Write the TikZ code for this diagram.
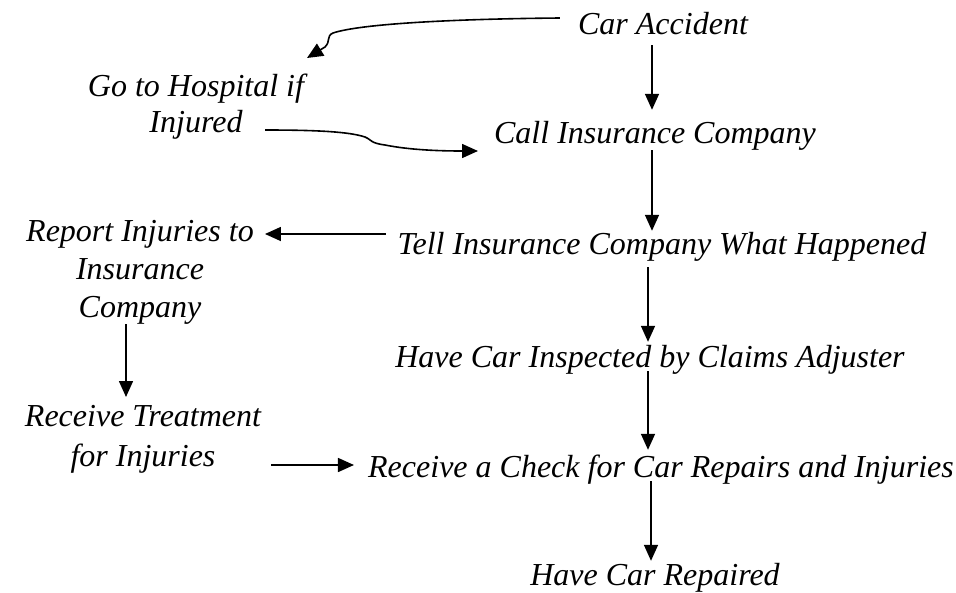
\documentclass[tikz,border=0pt]{standalone}
\usepackage{fontspec}
\newfontfamily\stepfont{Liberation Serif}
\usetikzlibrary{arrows.meta}
\begin{document}
\begin{tikzpicture}[x=1pt,y=1pt,
  step label/.style={font=\stepfont\fontsize{32}{38}\selectfont\itshape, inner sep=0pt, align=center},
  one line/.style={step label, anchor=base, text height=22pt, text depth=7pt},
  flow/.style={line width=1.6pt, -{Triangle[length=16pt,width=14pt]}}]
\useasboundingbox (0,0) rectangle (956,-592);

% main sequence of steps (placed on their baselines)
\node[one line] (acc)    at (663,-34)  {Car Accident};
\node[one line] (call)   at (655,-143) {Call Insurance Company};
\node[one line] (tell)   at (662,-254) {Tell Insurance Company What Happened};
\node[one line] (insp)   at (650,-367) {Have Car Inspected by Claims Adjuster};
\node[one line] (check)  at (661,-477) {Receive a Check for Car Repairs and Injuries};
\node[one line] (repair) at (655,-585) {Have Car Repaired};

% side steps (placed by their top edge)
\node[step label, anchor=north] (hosp)   at (196,-74)  {Go to Hospital if\\[-2pt]Injured};
\node[step label, anchor=north] (report) at (140,-220) {Report Injuries to\\Insurance\\Company};
\node[step label, anchor=north] (treat)  at (143,-405) {Receive Treatment\\[2pt]for Injuries};

% main sequence
\draw[flow, shorten <=4pt, shorten >=11pt] (acc.south -| 652,0) -- (call.north -| 652,0);
\draw[flow, shorten >=1pt] (call.south -| 652,0) -- (tell.north -| 652,0);
\draw[flow, shorten <=6pt, shorten >=3pt] (tell.south -| 648,0) -- (insp.north -| 648,0);
\draw[flow, shorten <=-3pt, shorten >=5pt] (insp.south -| 648,0) -- (check.north -| 648,0);
\draw[flow, shorten <=-3pt, shorten >=2pt] (check.south -| 651,0) -- (repair.north -| 651,0);

% side branches
\draw[flow, shorten >=8pt] (report.south -| 126,0) -- (treat.north -| 126,0);
\draw[flow] ([xshift=-12pt]tell.west |- 0,-234) -- ([xshift=11pt]report.east |- 0,-234);
\draw[flow] ([xshift=10pt]treat.east |- 0,-465) -- ([xshift=-14pt]check.west |- 0,-465);

% curved connectors
\draw[flow] ([xshift=-18pt]acc.west |- 0,-18)
  .. controls (450,-19) and (360,-24) .. (333,-33)
  .. controls (326,-36) and (331,-41) .. (325,-47)
  -- (307,-58);
\coordinate (inj) at (265,-130);
\draw[flow] (inj)
  .. controls (320,-130) and (350,-132) .. (365,-137)
  .. controls (372,-140) and (370,-143) .. (385,-145)
  .. controls (410,-150) and (440,-151) .. (478,-151);
\end{tikzpicture}
\end{document}
